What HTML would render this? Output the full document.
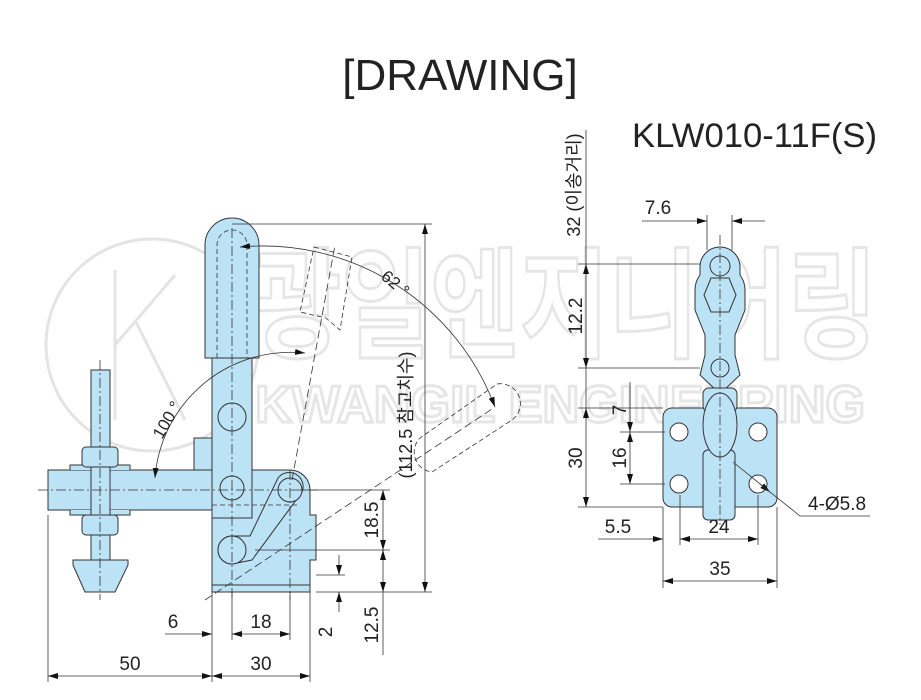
<!DOCTYPE html>
<html><head><meta charset="utf-8"><style>
html,body{margin:0;padding:0;background:#fff}
svg{display:block}
text{font-family:"Liberation Sans","Noto Sans CJK KR",sans-serif;fill:#222}
</style></head><body>
<svg width="921" height="700" viewBox="0 0 921 700" xmlns="http://www.w3.org/2000/svg">
<defs>
<marker id="a" viewBox="0 0 10 6" refX="10" refY="3" markerWidth="10" markerHeight="6" orient="auto-start-reverse" markerUnits="userSpaceOnUse"><path d="M0,0 L10,3 L0,6z" fill="#111"/></marker>
</defs>
<!-- watermark -->
<g fill="none" stroke="#e4e4e4" stroke-width="3">
<circle cx="152" cy="345" r="106"/>
<path d="M115 270 V420 M115 345 L175 275 M135 320 L185 420"/>
<text x="252" y="348" font-size="120" font-weight="bold" textLength="625" lengthAdjust="spacingAndGlyphs" style="fill:none" stroke="#e6e6e6" stroke-width="3">광일엔지니어링</text>
<text x="255" y="422" font-size="52" font-weight="bold" style="fill:none" stroke="#e6e6e6" stroke-width="3" textLength="610" lengthAdjust="spacingAndGlyphs">KWANGIL ENGINEERING</text>
</g>
<!-- titles -->
<text x="460" y="90" font-size="44" text-anchor="middle">[DRAWING]</text>
<text x="632" y="147" font-size="34" textLength="245" lengthAdjust="spacingAndGlyphs">KLW010-11F(S)</text>

<g stroke="#333" stroke-width="1" fill="#bce2f6">
<path d="M48 470 H212 V510 H48 Z"/>
<path d="M70 470 V465 H130 V470 M70 510 V515 H130 V510" />
<rect x="91" y="370" width="19" height="210"/>
<rect x="82" y="447" width="36" height="20" rx="4"/>
<rect x="82" y="515" width="36" height="20" rx="4"/>
<path d="M73 560 H128 V565 L115 592 H85 L73 565 Z"/>
<path d="M212 470 H290 A20 20 0 0 1 310 490 V515 H316 V560 H310 V592 H212 Z"/>
<line x1="212" y1="585" x2="310" y2="585"/>
<rect x="212" y="358" width="40" height="160"/>
<path d="M205 358 V245 A27 27 0 0 1 259 245 V358 Z"/>
<rect x="194" y="438" width="18" height="32"/>
<circle cx="232" cy="417" r="14"/>
<circle cx="232" cy="488" r="12"/>
<path d="M232 536 L250 536 L278 478 A14 14 0 0 1 302 492 L252 560 L232 564 A14 14 0 0 1 232 536 Z"/>
<circle cx="232" cy="550" r="14"/>
<circle cx="290" cy="490" r="12"/>
</g>

<g stroke="#333" stroke-width="0.8" fill="none" stroke-dasharray="10 3 2 3">
<line x1="38" y1="490" x2="320" y2="490"/>
<line x1="100" y1="360" x2="100" y2="600"/>
<line x1="232" y1="228" x2="232" y2="600"/>
<line x1="290" y1="470" x2="290" y2="600"/>
<line x1="205" y1="600" x2="495" y2="407" stroke-dasharray="8 4"/>
<line x1="292" y1="480" x2="335" y2="245" stroke-dasharray="8 4"/>
</g>
<g stroke="#333" stroke-width="0.8" fill="none" stroke-dasharray="5 3">
<path d="M217 358 V245 A15 15 0 0 1 247 245 V358"/>
<path d="M314 247 L352 257 L340 330 L326 318 L300 312 Z"/>
<path d="M497 384 A20 20 0 0 1 512 420 L432 472 A20 20 0 0 1 420 438 Z"/>
<line x1="212" y1="505" x2="300" y2="505"/>
</g>
<g stroke="#333" stroke-width="0.8" fill="none">
<path d="M240 247 A248 248 0 0 1 495 407" marker-start="url(#a)" marker-end="url(#a)"/>
<path d="M155 478 A136 136 0 0 1 305 353" marker-start="url(#a)" marker-end="url(#a)"/>
</g>
<text transform="translate(380,278) rotate(40)" font-size="17">62 °</text>
<text transform="translate(162,440) rotate(-60)" font-size="17">100 °</text>

<g stroke="#333" stroke-width="0.8" fill="none">
<line x1="48" y1="515" x2="48" y2="682"/>
<line x1="212" y1="592" x2="212" y2="682"/>
<line x1="310" y1="592" x2="310" y2="682"/>
<line x1="232" y1="592" x2="232" y2="640"/>
<line x1="290" y1="592" x2="290" y2="640"/>
<line x1="48" y1="676" x2="212" y2="676" marker-start="url(#a)" marker-end="url(#a)"/>
<line x1="212" y1="676" x2="310" y2="676" marker-start="url(#a)" marker-end="url(#a)"/>
<line x1="165" y1="634" x2="212" y2="634" marker-end="url(#a)"/>
<line x1="232" y1="634" x2="290" y2="634" marker-start="url(#a)" marker-end="url(#a)"/>
<line x1="300" y1="490" x2="390" y2="490"/>
<line x1="255" y1="550" x2="390" y2="550"/>
<line x1="316" y1="592" x2="432" y2="592"/>
<line x1="316" y1="575" x2="345" y2="575"/>
<line x1="383" y1="490" x2="383" y2="550" marker-start="url(#a)" marker-end="url(#a)"/>
<line x1="383" y1="550" x2="383" y2="592" marker-start="url(#a)" marker-end="url(#a)"/>
<line x1="383" y1="592" x2="383" y2="655"/>
<line x1="339" y1="555" x2="339" y2="575" marker-end="url(#a)"/>
<line x1="339" y1="612" x2="339" y2="592" marker-end="url(#a)"/>
<line x1="232" y1="224" x2="432" y2="224"/>
<line x1="425" y1="224" x2="425" y2="592" marker-start="url(#a)" marker-end="url(#a)"/>
</g>
<g font-size="19">
<text x="130" y="670" text-anchor="middle">50</text>
<text x="261" y="670" text-anchor="middle">30</text>
<text x="173" y="628" text-anchor="middle">6</text>
<text x="261" y="628" text-anchor="middle">18</text>
<text transform="translate(378,520) rotate(-90)" text-anchor="middle">18.5</text>
<text transform="translate(378,625) rotate(-90)" text-anchor="middle">12.5</text>
<text transform="translate(332,632) rotate(-90)" text-anchor="middle">2</text>
<text transform="translate(412,415) rotate(-90)" text-anchor="middle" font-size="18">(112.5 참고치수)</text>
</g>

<g stroke="#333" stroke-width="1" fill="#bce2f6">
<path d="M720 247 A20 20 0 0 1 740 267 V275 A25 25 0 0 1 745 290 V310 L735 335 V355 L740 375 L722 392 L718 392 L700 375 L705 355 V335 L695 310 V290 A25 25 0 0 1 700 275 V267 A20 20 0 0 1 720 247 Z"/>
<path d="M711 278 L729 278 L736 295 L729 312 L711 312 L704 295 Z" fill="none"/>
<circle cx="720" cy="266" r="10" fill="none"/>
<circle cx="720" cy="368" r="9" fill="none"/>
<rect x="663" y="408" width="114" height="99" rx="9"/>
<rect x="703" y="450" width="32" height="70" rx="5"/>
<rect x="703" y="388" width="34" height="24" rx="6"/>
<ellipse cx="720" cy="425" rx="17" ry="32"/>
<circle cx="679" cy="432" r="9" fill="#fff"/>
<circle cx="758" cy="432" r="9" fill="#fff"/>
<circle cx="679" cy="484" r="9" fill="#fff"/>
<circle cx="758" cy="484" r="9" fill="#fff"/>
</g>
<g stroke="#333" stroke-width="0.8" fill="none">
<line x1="720" y1="235" x2="720" y2="525" stroke-dasharray="10 3 2 3"/>
<line x1="707" y1="215" x2="707" y2="250"/>
<line x1="732" y1="215" x2="732" y2="250"/>
<line x1="642" y1="221" x2="707" y2="221" marker-end="url(#a)"/>
<line x1="765" y1="221" x2="732" y2="221" marker-end="url(#a)"/>
<line x1="578" y1="264" x2="700" y2="264"/>
<line x1="578" y1="368" x2="700" y2="368"/>
<line x1="578" y1="408" x2="663" y2="408"/>
<line x1="578" y1="507" x2="663" y2="507"/>
<line x1="620" y1="432" x2="665" y2="432"/>
<line x1="620" y1="484" x2="665" y2="484"/>
<line x1="586" y1="130" x2="586" y2="264"/>
<line x1="586" y1="264" x2="586" y2="368" marker-start="url(#a)" marker-end="url(#a)"/>
<line x1="586" y1="368" x2="586" y2="408"/>
<line x1="586" y1="408" x2="586" y2="507" marker-start="url(#a)" marker-end="url(#a)"/>
<line x1="630" y1="382" x2="630" y2="432" marker-end="url(#a)"/>
<line x1="630" y1="432" x2="630" y2="484" marker-start="url(#a)" marker-end="url(#a)"/>
<line x1="663" y1="507" x2="663" y2="588"/>
<line x1="777" y1="507" x2="777" y2="588"/>
<line x1="680" y1="495" x2="680" y2="545"/>
<line x1="758" y1="495" x2="758" y2="545"/>
<line x1="648" y1="539" x2="663" y2="539" marker-end="url(#a)"/>
<line x1="598" y1="539" x2="648" y2="539"/>
<line x1="680" y1="539" x2="758" y2="539" marker-start="url(#a)" marker-end="url(#a)"/>
<line x1="663" y1="581" x2="777" y2="581" marker-start="url(#a)" marker-end="url(#a)"/>
<line x1="733" y1="462" x2="770" y2="492" marker-end="url(#a)"/>
<polyline points="760,484 800,516 870,516"/>
</g>
<g font-size="19">
<text x="658" y="214" text-anchor="middle">7.6</text>
<text transform="translate(582,316) rotate(-90)" text-anchor="middle">12.2</text>
<text transform="translate(580,185) rotate(-90)" text-anchor="middle" font-size="18">32 (이송거리)</text>
<text transform="translate(582,458) rotate(-90)" text-anchor="middle">30</text>
<text transform="translate(626,410) rotate(-90)" text-anchor="middle">7</text>
<text transform="translate(626,458) rotate(-90)" text-anchor="middle">16</text>
<text x="618" y="533" text-anchor="middle">5.5</text>
<text x="719" y="533" text-anchor="middle">24</text>
<text x="720" y="575" text-anchor="middle">35</text>
<text x="808" y="510">4-Ø5.8</text>
</g>
</svg>
</body></html>
